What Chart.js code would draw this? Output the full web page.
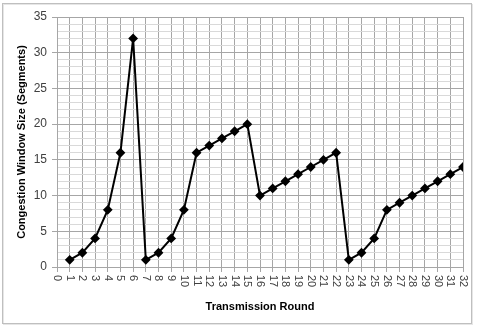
<!DOCTYPE html>
<html>
<head>
<meta charset="utf-8">
<script src="https://cdn.jsdelivr.net/npm/chart.js@4"></script>
<style>
  html, body { margin: 0; padding: 0; background: #fff; }
  #wrap { width: 478px; height: 330px; }
</style>
</head>
<body>
<div id="wrap"><canvas id="cwnd" width="478" height="330"></canvas></div>
<script>
const rounds = [1,2,3,4,5,6,7,8,9,10,11,12,13,14,15,16,17,18,19,20,21,22,23,24,25,26,27,28,29,30,31,32];
const cwnd = [1,2,4,8,16,32,1,2,4,8,16,17,18,19,20,10,11,12,13,14,15,16,1,2,4,8,9,10,11,12,13,14];
const xTicks = [0,1,2,3,4,5,6,7,8,9,10,11,12,13,14,15,16,17,18,19,20,21,22,23,24,25,26,27,28,29,30,31,32];

const FONT = "'Liberation Sans', Arial, sans-serif";

// x labels read top-to-bottom in the original, so draw them ourselves
const rotatedXLabels = {
  id: "rotatedXLabels",
  afterDraw(chart) {
    const ctx = chart.ctx;
    const x = chart.scales.x;
    ctx.save();
    ctx.fillStyle = "#404040";
    ctx.font = "11px " + FONT;
    ctx.textBaseline = "middle";
    ctx.textAlign = "left";
    xTicks.forEach(v => {
      const px = x.getPixelForValue(v);
      ctx.save();
      ctx.translate(px, x.top + 8);
      ctx.rotate(Math.PI / 2);
      ctx.fillText(String(v), 0, 0);
      ctx.restore();
    });
    ctx.restore();
  }
};

const frame = {
  id: "frame",
  beforeDraw(chart) {
    const ctx = chart.ctx;
    ctx.save();
    ctx.fillStyle = "#fff";
    ctx.fillRect(0, 0, chart.width, chart.height);
    ctx.strokeStyle = "#e6e6e6";
    ctx.lineWidth = 1;
    ctx.strokeRect(3.5, 4.5, 469, 320);
    ctx.strokeStyle = "#bfbfbf";
    ctx.strokeRect(2.5, 3.5, 469, 320);
    ctx.restore();
  }
};

new Chart(document.getElementById("cwnd"), {
  type: "line",
  data: {
    datasets: [{
      label: "Congestion Window",
      data: rounds.map((r, i) => ({ x: r, y: cwnd[i] })),
      borderColor: "#000",
      backgroundColor: "#000",
      borderWidth: 2,
      pointStyle: "rectRot",
      pointRadius: 3.5,
      pointHoverRadius: 3.5,
      tension: 0
    }]
  },
  options: {
    responsive: false,
    animation: false,
    layout: { padding: { left: 0, right: 15, top: 17, bottom: 0 } },
    plugins: { legend: { display: false }, tooltip: { enabled: false } },
    scales: {
      x: {
        type: "linear",
        min: 0,
        max: 32,
        afterFit(s) { s.height = 63; },
        ticks: { stepSize: 1, display: false },
        grid: { color: "#a6a6a6", lineWidth: 1, tickLength: 5, drawTicks: true },
        border: { color: "#a6a6a6" },
        title: {
          display: true,
          text: "Transmission Round",
          color: "#000",
          font: { family: FONT, size: 11, weight: "bold" },
          padding: { top: 0, bottom: 16 }
        }
      },
      y: {
        min: 0,
        max: 35,
        afterFit(s) { s.width = 57; },
        ticks: {
          stepSize: 1,
          autoSkip: false,
          padding: 5,
          color: "#404040",
          font: { family: FONT, size: 12 },
          callback: v => (v % 5 === 0 ? v : "")
        },
        grid: {
          color: c => (c.tick && c.tick.value % 5 === 0 ? "#a6a6a6" : "#d9d9d9"),
          tickLength: 5,
          tickColor: c => (c.tick && c.tick.value % 5 === 0 ? "#a6a6a6" : "rgba(0,0,0,0)")
        },
        border: { color: "#a6a6a6" },
        title: {
          display: true,
          text: "Congestion Window Size (Segments)",
          color: "#000",
          font: { family: FONT, size: 11, weight: "bold" },
          padding: { top: 15, bottom: 0 }
        }
      }
    }
  },
  plugins: [frame, rotatedXLabels]
});
</script>
</body>
</html>
